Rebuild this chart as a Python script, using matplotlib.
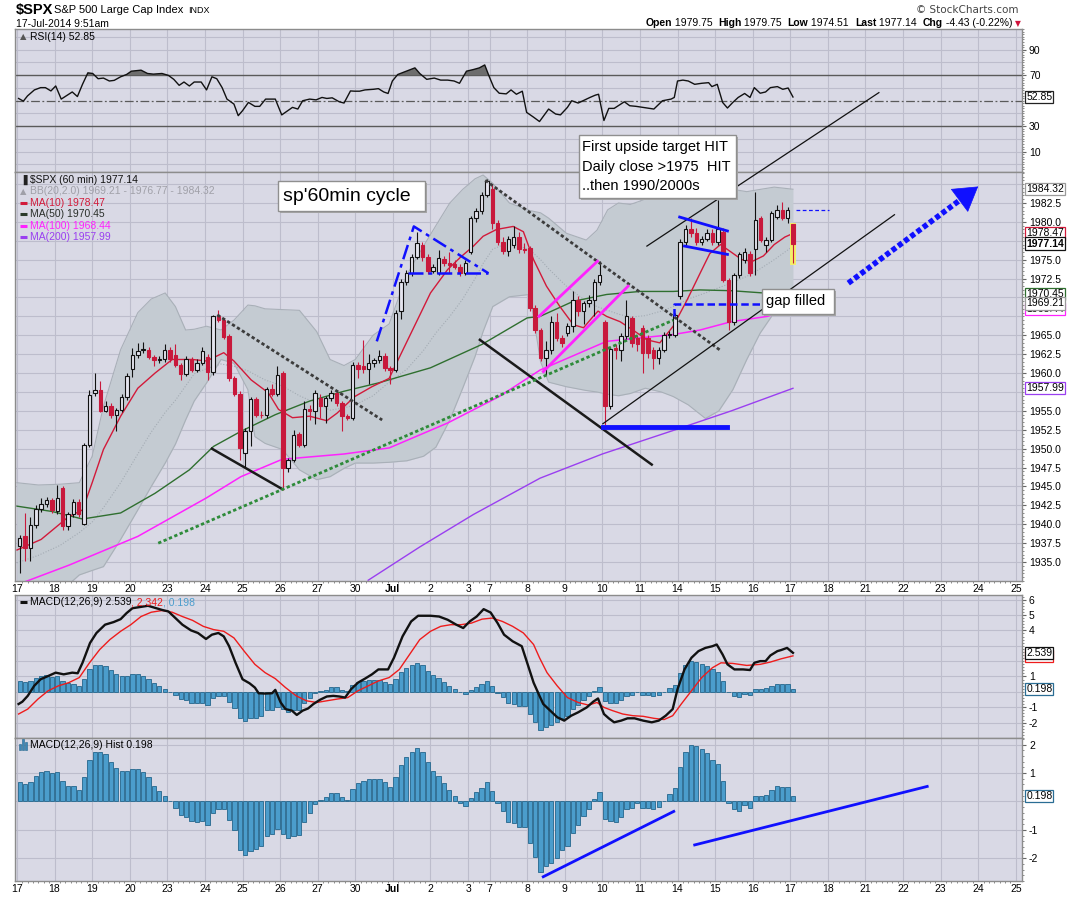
import numpy as np
import matplotlib
matplotlib.use("Agg")
import matplotlib.pyplot as plt
from matplotlib.patches import Rectangle

plt.rcParams['font.family'] = ['Liberation Sans', 'DejaVu Sans']

# ---------------- calendar (hourly bars, 7 per session, 4 on 3-Jul)
day_labels = ['17', '18', '19', '20', '23', '24', '25', '26', '27', '30', 'Jul', '2', '3',
              '7', '8', '9', '10', '11', '14', '15', '16', '17', '18', '21', '22', '23', '24', '25']
day_bars = [7] * 12 + [4] + [7] * 15

# ---------------- $SPX 60 min candles, 17-Jun 9:30 .. 17-Jul 9:30
opens = [1937.1, 1938.5, 1936.8, 1939.9, 1942.0, 1942.7, 1943.2,
         1941.7, 1944.8, 1939.8, 1941.3, 1943.0, 1940.1, 1950.5,
         1957.4, 1957.8, 1955.0, 1955.7, 1954.4, 1955.1, 1956.8,
         1960.6, 1962.4, 1963.0, 1963.1, 1962.1, 1961.7, 1961.8,
         1963.1, 1962.4, 1961.1, 1959.9, 1961.8, 1960.4, 1961.4,
         1962.1, 1960.1, 1967.5, 1967.0, 1964.9, 1959.3, 1957.3,
         1949.4, 1952.4, 1956.6, 1954.5, 1954.4, 1957.9, 1957.3,
         1960.0, 1947.4, 1948.5, 1951.9, 1950.5, 1955.2, 1955.0,
         1956.7, 1955.6, 1956.7, 1957.4, 1956.0, 1954.3, 1954.1,
         1961.1, 1960.9, 1960.5, 1961.4, 1961.7, 1962.3, 1960.7,
         1960.4, 1968.2, 1972.1, 1973.2, 1975.4, 1976.9, 1975.4,
         1973.5, 1973.3, 1975.1, 1974.6, 1974.4, 1974.1, 1973.3,
         1976.0, 1980.5, 1981.4, 1983.6,
         1984.3, 1979.8, 1977.4, 1976.1, 1977.0, 1978.0, 1976.4,
         1976.5, 1968.6, 1965.7, 1962.0, 1963.0, 1966.8, 1964.6,
         1965.3, 1966.2, 1969.7, 1968.2, 1969.3, 1969.7, 1972.1,
         1966.8, 1955.6, 1963.3, 1963.0, 1964.9, 1967.3, 1964.6,
         1966.0, 1964.6, 1963.1, 1962.0, 1963.1, 1965.1, 1965.1,
         1970.2, 1977.3, 1979.0, 1978.5, 1977.4, 1977.8, 1978.5,
         1977.4, 1978.7, 1972.3, 1966.8, 1973.0, 1975.0, 1975.7,
         1976.4, 1980.5, 1977.0, 1977.6, 1980.7, 1981.6, 1980.5,
         1979.75]
highs = [1938.6, 1941.5, 1941.0, 1942.6, 1943.5, 1943.6, 1943.5,
         1945.2, 1945.0, 1941.6, 1943.4, 1943.3, 1950.8, 1957.8,
         1960.0, 1958.9, 1956.3, 1956.0, 1955.4, 1957.2, 1960.0,
         1963.3, 1964.0, 1964.1, 1963.4, 1962.4, 1962.2, 1963.8,
         1963.5, 1963.8, 1961.4, 1962.2, 1962.1, 1961.8, 1963.5,
         1962.5, 1967.7, 1968.4, 1967.3, 1965.2, 1959.6, 1957.6,
         1952.8, 1956.9, 1956.9, 1955.0, 1958.2, 1958.6, 1960.9,
         1960.3, 1948.8, 1952.5, 1952.2, 1956.3, 1955.8, 1957.8,
         1957.2, 1957.0, 1957.8, 1957.7, 1956.3, 1954.6, 1961.5,
         1961.5, 1964.4, 1962.5, 1962.0, 1963.0, 1962.6, 1961.0,
         1968.3, 1972.4, 1973.6, 1975.7, 1978.7, 1977.4, 1975.8,
         1974.4, 1976.3, 1975.5, 1976.0, 1975.0, 1974.4, 1975.0,
         1980.8, 1981.8, 1984.0, 1985.7,
         1985.0, 1980.3, 1978.0, 1978.2, 1979.4, 1978.6, 1977.2,
         1976.8, 1969.0, 1966.0, 1964.2, 1967.5, 1968.0, 1965.0,
         1966.6, 1970.8, 1970.2, 1969.6, 1970.3, 1972.5, 1974.8,
         1967.0, 1963.5, 1963.8, 1965.3, 1969.7, 1967.6, 1965.0,
         1966.4, 1965.1, 1963.5, 1963.5, 1965.5, 1965.6, 1968.0,
         1977.8, 1979.6, 1980.5, 1979.2, 1978.2, 1979.0, 1979.0,
         1982.9, 1979.2, 1972.6, 1973.3, 1976.0, 1976.5, 1976.2,
         1984.0, 1980.8, 1978.0, 1981.5, 1982.2, 1982.6, 1982.0,
         1979.75]
lows = [1933.5, 1935.1, 1935.1, 1939.5, 1941.6, 1942.3, 1941.5,
        1941.3, 1939.3, 1939.2, 1941.0, 1941.0, 1939.9, 1950.2,
        1957.0, 1954.8, 1954.8, 1954.0, 1952.3, 1954.8, 1956.5,
        1959.5, 1962.0, 1962.6, 1961.8, 1960.9, 1961.3, 1961.5,
        1961.5, 1960.8, 1959.1, 1959.6, 1960.1, 1960.1, 1961.1,
        1959.1, 1959.8, 1966.7, 1964.5, 1959.0, 1957.0, 1948.5,
        1947.6, 1950.3, 1954.2, 1954.0, 1954.1, 1957.0, 1957.0,
        1944.6, 1946.9, 1948.2, 1950.2, 1950.2, 1953.8, 1953.3,
        1954.0, 1953.4, 1956.3, 1955.7, 1952.3, 1953.8, 1953.8,
        1959.3, 1960.0, 1958.5, 1960.8, 1961.3, 1960.3, 1958.5,
        1960.1, 1967.1, 1971.7, 1972.8, 1975.1, 1974.8, 1973.1,
        1973.2, 1973.0, 1974.2, 1973.2, 1973.8, 1972.9, 1973.0,
        1975.7, 1980.0, 1981.1, 1983.3,
        1979.0, 1977.0, 1975.8, 1975.5, 1976.6, 1975.9, 1975.9,
        1968.2, 1965.3, 1961.6, 1959.7, 1962.5, 1964.3, 1963.5,
        1964.9, 1965.5, 1967.5, 1966.5, 1968.8, 1967.5, 1971.6,
        1953.2, 1955.3, 1961.8, 1961.6, 1964.5, 1963.5, 1962.9,
        1960.0, 1962.0, 1960.5, 1961.2, 1962.8, 1964.6, 1964.8,
        1969.8, 1976.8, 1978.0, 1976.9, 1977.0, 1977.5, 1977.0,
        1977.0, 1972.0, 1965.7, 1966.3, 1972.6, 1974.6, 1972.9,
        1973.0, 1977.3, 1976.0, 1977.3, 1980.4, 1980.2, 1979.8,
        1974.51]
closes = [1938.2, 1936.9, 1939.9, 1942.0, 1942.7, 1943.2, 1941.9,
          1943.5, 1939.8, 1941.3, 1943.0, 1941.3, 1950.5, 1957.1,
          1957.7, 1955.0, 1955.7, 1954.4, 1955.1, 1956.8, 1959.6,
          1962.4, 1962.9, 1963.2, 1962.1, 1961.7, 1961.8, 1963.1,
          1961.8, 1961.1, 1959.9, 1961.8, 1960.4, 1961.4, 1962.9,
          1960.1, 1967.5, 1967.0, 1964.8, 1959.3, 1957.3, 1950.1,
          1952.4, 1956.6, 1954.5, 1954.4, 1957.9, 1957.3, 1959.8,
          1947.4, 1948.5, 1951.8, 1950.5, 1955.2, 1955.0, 1957.4,
          1955.6, 1956.7, 1957.4, 1956.0, 1954.3, 1954.1, 1961.1,
          1960.5, 1960.5, 1961.4, 1961.7, 1962.3, 1960.7, 1960.4,
          1968.0, 1972.1, 1973.2, 1975.4, 1977.2, 1975.4, 1973.5,
          1974.0, 1975.2, 1974.6, 1974.3, 1974.1, 1973.3, 1974.6,
          1980.5, 1981.4, 1983.6, 1985.4,
          1979.8, 1977.4, 1976.1, 1977.8, 1978.0, 1976.4, 1976.3,
          1968.6, 1965.7, 1962.0, 1963.0, 1966.8, 1964.6, 1964.0,
          1966.2, 1969.7, 1968.2, 1969.3, 1969.7, 1972.1, 1973.0,
          1955.6, 1963.2, 1963.0, 1964.9, 1967.5, 1964.0, 1963.8,
          1962.7, 1962.7, 1962.0, 1963.1, 1965.1, 1965.2, 1967.7,
          1977.3, 1979.1, 1978.5, 1977.4, 1977.8, 1978.5, 1977.4,
          1979.0, 1972.3, 1966.8, 1973.0, 1975.7, 1976.0, 1973.2,
          1980.3, 1977.6, 1977.6, 1981.2, 1981.6, 1980.5, 1981.6,
          1977.14]

# ---------------- overlays (x = bar position)
bb_x = [0, 4, 8, 11.6, 14, 16.1, 19.3, 22.5, 25, 27.6, 29.5, 31.4, 33, 35.3, 38, 40.4, 43, 44.3,
        46.2, 49.4, 52.6, 55.8, 58.3, 60.9, 63, 66.3, 69.3, 72.6, 75.7, 78, 80.6, 83, 85.3, 86.8,
        88.6, 91.7, 95.5, 97.5, 99, 102.3, 106, 108, 110, 112, 114.2, 117, 120, 122.2, 125, 128.2,
        130.7, 133.3, 135.9, 138.4, 141, 144.5]
bb_upper = [1945.5, 1945.2, 1945.3, 1945.5, 1949.0, 1955.6, 1963.1, 1968.0, 1969.8, 1970.6, 1968.8,
            1965.7, 1965.8, 1966.2, 1965.7, 1967.0, 1969.0, 1968.9, 1968.5, 1968.4, 1968.3, 1965.5,
            1961.8, 1961.0, 1961.8, 1965.0, 1966.5, 1973.0, 1976.8, 1979.5, 1982.5, 1984.3, 1985.7,
            1986.2, 1985.1, 1982.5, 1981.5, 1981.2, 1980.5, 1978.5, 1977.6, 1978.9, 1981.6, 1982.5,
            1982.3, 1983.0, 1985.1, 1987.5, 1989.0, 1988.0, 1985.5, 1984.3, 1984.0, 1984.3, 1984.6,
            1984.32]
bb_mid = [1934.9, 1935.9, 1937.2, 1938.9, 1940.3, 1942.2, 1945.5, 1949.3, 1952.2, 1954.8, 1956.4,
          1958.3, 1959.9, 1960.6, 1961.2, 1960.9, 1960.3, 1959.8, 1959.1, 1958.3, 1957.0, 1956.0,
          1955.1, 1955.4, 1955.8, 1957.0, 1958.8, 1960.5, 1963.0, 1965.3, 1967.5, 1969.8, 1972.5,
          1974.5, 1976.4, 1977.3, 1976.3, 1975.0, 1973.8, 1971.5, 1969.5, 1968.8, 1968.3, 1967.8,
          1967.4, 1967.6, 1968.2, 1968.8, 1969.8, 1970.6, 1971.3, 1972.0, 1972.8, 1973.8, 1975.0,
          1976.77]
bb_lower = [1929.0, 1929.8, 1931.0, 1933.3, 1933.9, 1934.4, 1938.0, 1941.9, 1945.0, 1948.1, 1950.6,
            1953.8, 1956.3, 1958.7, 1961.8, 1961.3, 1957.8, 1951.6, 1950.7, 1949.9, 1947.2, 1945.9,
            1946.3, 1947.4, 1948.1, 1948.1, 1948.2, 1948.4, 1949.0, 1950.2, 1953.8, 1958.0, 1962.2,
            1965.5, 1968.8, 1970.1, 1970.4, 1961.5, 1958.8, 1958.2, 1957.7, 1957.5, 1957.2, 1957.0,
            1957.3, 1958.0, 1957.5, 1956.9, 1955.8, 1954.0, 1955.0, 1957.8, 1961.8, 1965.3, 1968.0,
            1969.21]

ma10_x = [0, 4.5, 9.6, 12.2, 14, 16.1, 19.3, 22.5, 25.7, 28.9, 32.7, 35.3, 38.5, 40.4, 43.6, 46.8,
          48.7, 51.3, 54.5, 57.7, 59.6, 62.9, 66.1, 69.3, 72.5, 77, 80.2, 82.7, 85, 86.8, 89.3, 92.4,
          94.3, 96.2, 98.6, 101.1, 103.6, 105.5, 107.3, 108.2, 109.8, 112.3, 114.7, 117.3, 119.7,
          122.2, 124.8, 127.2, 129, 131, 133, 135, 137, 139, 141, 143, 144.5]
ma10_y = [1936.6, 1938.0, 1941.0, 1941.9, 1945.5, 1949.9, 1954.3, 1958.0, 1960.0, 1961.8, 1961.8,
          1961.6, 1962.7, 1961.6, 1959.1, 1957.4, 1955.2, 1954.1, 1954.3, 1953.7, 1954.7, 1956.9,
          1958.2, 1959.3, 1964.0, 1970.6, 1973.7, 1975.4, 1976.8, 1978.1, 1979.0, 1979.4, 1978.7,
          1975.0, 1971.5, 1968.8, 1966.4, 1966.0, 1967.5, 1968.2, 1967.5, 1966.8, 1965.7, 1964.4,
          1964.0, 1966.2, 1969.7, 1973.2, 1975.8, 1977.0, 1976.0, 1975.0, 1974.8, 1975.5, 1977.0,
          1978.0, 1978.47]
ma50_x = [0, 6.5, 12.2, 19.3, 25.7, 32.1, 36.6, 41.7, 48.1, 54.5, 60.9, 67.3, 77, 86.6, 95, 97.4,
          103.6, 109.8, 116, 122.2, 127.2, 133, 139, 144.5]
ma50_y = [1942.4, 1941.7, 1940.7, 1941.5, 1944.1, 1947.2, 1950.3, 1952.3, 1954.5, 1956.3, 1957.6,
          1958.7, 1960.7, 1963.8, 1967.3, 1967.5, 1969.5, 1970.4, 1970.8, 1970.8, 1971.0, 1970.9,
          1970.6, 1970.45]
ma100_x = [0, 9.7, 22.5, 35.3, 41.7, 49.4, 60.9, 69.3, 80.2, 89.8, 97.4, 109.8, 122.2, 127.2, 133,
           139.7, 144.5]
ma100_y = [1932.0, 1934.6, 1938.4, 1943.5, 1946.3, 1948.6, 1949.3, 1950.1, 1953.4, 1956.9, 1960.4,
           1964.2, 1965.1, 1965.7, 1966.8, 1967.5, 1968.44]
ma200_x = [65.4, 75, 85, 97.4, 109, 123, 133, 144.5]
ma200_y = [1932.6, 1937.0, 1941.3, 1946.1, 1949.3, 1952.6, 1955.0, 1957.99]

# ---------------- RSI(14)
rsi_x = [0.3, 1.19, 1.96, 3.24, 4.4, 5.29, 6.32, 7.21, 8.24, 9.65, 10.29, 11.25, 12.2, 13.2, 14.1,
         15.1, 16.1, 17.2, 18.1, 19.3, 20.4, 21.3, 23.1, 24.3, 25.4, 27.0, 28.2, 29.2, 30.2, 31.1,
         32.1, 33.0, 34.3, 35.3, 36.3, 37.2, 38.2, 39.1, 40.4, 41.2, 42.0, 43.1, 44.3, 45.2, 46.3,
         47.1, 48.1, 49.3, 50.4, 51.3, 52.3, 53.2, 54.5, 55.7, 56.8, 57.7, 58.7, 60.0, 60.9, 62.1,
         62.9, 63.8, 64.8, 66.4, 67.3, 68.3, 69.1, 69.9, 70.9, 72.5, 74.1, 75.0, 76.3, 77.7, 78.9,
         80.2, 81.4, 82.4, 83.7, 85.0, 86.1, 87.1, 87.9, 88.8, 89.8, 91.1, 92.0, 93.0, 94.1, 94.9,
         96.2, 97.3, 99.0, 100.3, 101.2, 102.5, 103.3, 104.5, 105.4, 106.7, 107.7, 108.3, 109.3,
         110.2, 111.2, 113.1, 114.1, 115.3, 116.6, 118.6, 120.2, 121.8, 122.4, 123.0, 124.0, 125.0,
         126.2, 127.5, 128.8, 129.4, 130.4, 131.4, 132.3, 133.3, 134.3, 135.5, 136.5, 137.3, 138.4,
         139.4, 140.3, 141.6, 142.6, 143.6, 144.5]
rsi_y = [51.7, 49.6, 53.7, 58.4, 60.2, 60.2, 57.6, 61.5, 51.2, 55.0, 56.8, 53.2, 62.8, 71.8, 71.3,
         67.2, 67.7, 65.4, 65.9, 68.7, 70.5, 73.1, 73.9, 71.3, 70.8, 71.3, 69.8, 66.7, 62.0, 64.6,
         61.5, 64.6, 64.6, 58.4, 68.7, 67.2, 60.2, 51.2, 47.3, 38.2, 42.1, 48.6, 45.5, 45.5, 51.2,
         51.2, 51.2, 38.8, 42.1, 44.7, 43.4, 49.9, 51.2, 50.6, 52.5, 51.7, 52.2, 49.1, 48.1, 57.6,
         57.4, 57.4, 58.4, 58.9, 59.4, 56.8, 55.6, 65.4, 70.5, 73.1, 75.7, 71.3, 66.7, 67.7, 66.1,
         66.1, 65.4, 63.6, 73.1, 74.4, 75.7, 78.0, 69.3, 60.2, 55.8, 55.3, 58.4, 55.0, 57.4, 40.8,
         37.0, 33.6, 43.4, 39.5, 38.8, 44.7, 49.9, 48.1, 49.9, 52.5, 54.3, 55.0, 34.4, 43.9, 43.9,
         49.1, 46.0, 45.5, 44.7, 43.4, 49.9, 51.2, 52.5, 65.4, 66.1, 65.4, 62.8, 63.6, 64.1, 61.0,
         62.8, 48.6, 44.2, 48.6, 52.5, 55.6, 52.5, 60.2, 55.8, 56.8, 60.2, 61.0, 58.9, 59.9, 52.85]

# ---------------- MACD(12,26,9)
macd_x = [0.3, 1.0, 2.0, 3.2, 4.4, 5.8, 7.2, 8.7, 10.3, 11.3, 12.2, 13.6, 14.8, 16.4, 18.0, 19.3,
          20.4, 21.5, 24.4, 27.0, 28.2, 29.5, 30.8, 32.4, 33.7, 35.2, 36.3, 37.5, 38.5, 39.5, 40.7,
          42.0, 43.3, 44.3, 45.0, 46.2, 47.5, 48.1, 49.1, 50.0, 51.2, 52.1, 53.2, 54.2, 55.2, 56.4,
          57.7, 58.9, 60.0, 61.1, 62.2, 63.5, 64.8, 66.1, 67.3, 69.1, 70.2, 71.8, 73.4, 74.7, 77.0,
          78.6, 80.2, 81.8, 83.1, 84.3, 85.6, 86.9, 88.2, 89.5, 90.7, 92.3, 94.0, 95.2, 96.2, 97.3,
          98.0, 99.3, 100.6, 101.9, 103.2, 104.5, 106.1, 107.3, 108.2, 109.3, 110.2, 111.2, 112.5,
          113.7, 115.0, 116.6, 118.2, 119.5, 120.8, 122.1, 123.0, 124.3, 125.6, 126.9, 128.2, 129.5,
          130.3, 131.4, 132.3, 133.6, 135.2, 136.5, 137.3, 138.4, 139.4, 140.3, 141.6, 142.3, 143.4,
          144.5]
macd_y = [-0.79, -0.64, -0.26, 0.39, 0.82, 1.03, 1.25, 1.14, 1.25, 1.21, 1.89, 3.18, 3.83, 4.37,
          4.54, 4.73, 5.12, 5.44, 5.60, 5.33, 5.23, 4.80, 4.37, 4.00, 3.83, 3.44, 3.72, 3.83, 3.61,
          2.97, 1.89, 0.82, 0.56, 0.28, -0.09, -0.11, -0.09, 0.13, -0.69, -1.12, -1.22, -1.50, -1.22,
          -1.08, -0.79, -0.52, -0.30, -0.26, -0.30, -0.37, 0.17, 0.60, 0.86, 1.14, 1.46, 1.46, 2.22,
          3.61, 4.58, 4.95, 4.95, 4.90, 4.69, 4.37, 4.15, 4.58, 4.90, 5.38, 5.16, 4.47, 3.72, 3.29,
          2.97, 1.68, 0.60, -0.26, -0.79, -1.22, -1.65, -1.87, -1.55, -1.33, -1.01, -0.64, -0.43,
          -1.44, -1.72, -1.98, -1.87, -1.72, -1.72, -1.87, -1.98, -1.87, -1.55, -1.12, 0.17, 1.46,
          2.22, 2.65, 2.86, 2.97, 3.08, 2.43, 1.79, 1.46, 1.46, 1.42, 1.89, 2.00, 2.00, 2.37, 2.65,
          2.72, 2.86, 2.539]
signal_x = [0.3, 2.0, 3.9, 5.8, 7.7, 9.65, 11.6, 13.5, 15.4, 17.3, 19.3, 21.2, 23.1, 25.0, 27.0,
            28.9, 30.8, 32.7, 34.7, 36.6, 38.5, 40.4, 42.3, 44.3, 46.2, 48.1, 50.0, 52.0, 53.9,
            55.8, 57.7, 59.6, 61.6, 63.5, 65.4, 67.3, 69.3, 71.2, 73.1, 75.0, 77.0, 78.9, 80.8,
            82.7, 84.6, 86.6, 88.5, 90.4, 92.3, 94.3, 96.2, 97.3, 98.7, 100.6, 102.5, 104.5, 106.4,
            108.0, 109.3, 110.9, 112.8, 114.7, 116.6, 118.6, 120.5, 122.1, 123.7, 125.6, 127.5,
            129.5, 131.1, 133.3, 135.9, 138.4, 140.3, 142.3, 144.5]
signal_y = [-1.44, -1.12, -0.47, 0.07, 0.39, 0.60, 0.93, 1.89, 2.75, 3.40, 3.94, 4.37, 4.90, 5.18,
            5.29, 5.18, 4.90, 4.65, 4.26, 4.05, 3.94, 3.51, 2.65, 1.79, 1.25, 0.86, 0.28, -0.26,
            -0.58, -0.69, -0.58, -0.47, -0.37, 0.07, 0.39, 0.71, 0.93, 1.46, 2.43, 3.40, 3.94, 4.26,
            4.37, 4.37, 4.47, 4.73, 4.80, 4.58, 4.26, 3.83, 3.08, 2.22, 1.25, 0.39, -0.37, -0.69,
            -0.86, -0.69, -1.01, -1.22, -1.44, -1.55, -1.59, -1.72, -1.80, -1.55, -0.79, 0.07, 0.93,
            1.57, 1.89, 1.85, 1.72, 1.79, 1.94, 2.15, 2.342]
hist = [0.68, 0.62, 0.70, 0.91, 1.03, 1.09, 0.99, 1.05, 0.71, 0.56,
        0.54, 0.39, 0.85, 1.47, 1.75, 1.75, 1.67, 1.40, 1.17, 1.06,
        1.06, 1.16, 1.16, 1.05, 0.85, 0.56, 0.36, 0.21, 0.01, -0.23,
        -0.47, -0.55, -0.70, -0.71, -0.70, -0.83, -0.41, -0.25, -0.27, -0.64,
        -1.02, -1.72, -1.88, -1.73, -1.67, -1.58, -1.20, -1.16, -0.97, -1.13,
        -1.29, -1.20, -1.17, -0.71, -0.41, -0.08, 0.04, 0.15, 0.29, 0.29,
        0.15, 0.06, 0.43, 0.65, 0.71, 0.78, 0.78, 0.78, 0.67, 0.50,
        0.85, 1.27, 1.56, 1.73, 1.87, 1.73, 1.38, 1.09, 0.88, 0.64,
        0.40, 0.20, -0.04, -0.15, 0.12, 0.32, 0.49, 0.68, 0.37, -0.06,
        -0.35, -0.73, -0.76, -0.90, -0.90, -1.46, -1.96, -2.47,
        -2.26, -2.16, -1.99, -1.70, -1.58, -1.11, -0.83, -0.50, -0.27, 0.08,
        0.33, -0.62, -0.70, -0.73, -0.55, -0.25, -0.23, -0.04, -0.23, -0.23,
        -0.27, -0.20, 0.02, 0.26, 0.47, 1.20, 1.73, 1.98, 1.95, 1.84,
        1.70, 1.46, 1.31, 0.71, -0.04, -0.27, -0.33, -0.14, -0.23, 0.18,
        0.20, 0.23, 0.41, 0.53, 0.51, 0.50, 0.198]

# ---------------- style
BG = '#d9d9e5'
GRID = '#bdbdcc'
EDGE = '#8c8c8c'
RED = '#c8193c'
BLUE_H = '#4b9dcc'
W_PX, H_PX = 1075, 897

day_start = np.concatenate([[0], np.cumsum(day_bars)[:-1]])
xpos = np.arange(len(closes)) + 0.5


def fig_rect(top, bottom):
    return [15 / W_PX, 1 - bottom / H_PX, 1007 / W_PX, (bottom - top) / H_PX]


def px(x, y):
    return x / W_PX, 1 - y / H_PX


def panel(a, ylim, grid_vals, tick_vals, fmt, minor_step, dates=False):
    a.set_facecolor(BG)
    a.set_xlim(-0.37, 187.15)
    a.set_ylim(*ylim)
    for s in a.spines.values():
        s.set_color(EDGE)
        s.set_linewidth(1)
    for d in day_start:
        a.axvline(d, color=GRID, lw=0.8, zorder=0)
    for v in grid_vals:
        a.axhline(v, color=GRID, lw=0.8, zorder=0)
    a.yaxis.tick_right()
    a.set_yticks(tick_vals)
    a.set_yticklabels([fmt.format(v) for v in tick_vals], fontsize=7.5)
    a.set_yticks(np.arange(ylim[0] - ylim[0] % minor_step, ylim[1], minor_step), minor=True)
    a.tick_params(axis='y', which='major', length=3, width=0.8, pad=2, color='#666666')
    a.tick_params(axis='y', which='minor', length=1.5, width=0.6, color='#777777')
    a.set_xticks(day_start)
    a.set_xticks(np.arange(0, 187), minor=True)
    a.tick_params(axis='x', which='major', length=0, pad=2)
    a.tick_params(axis='x', which='minor', length=1.5, width=0.6, color='#777777')
    if dates:
        a.set_xticklabels(day_labels, fontsize=7.5)
        for t in a.get_xticklabels():
            if t.get_text() == 'Jul':
                t.set_fontweight('bold')
    else:
        a.set_xticklabels([])


def tag(a, v, text, ec, bold=False):
    a.annotate(text, xy=(1, v), xycoords=('axes fraction', 'data'), xytext=(3, 0),
               textcoords='offset points', ha='left', va='center', fontsize=7.5,
               fontweight='bold' if bold else 'normal', annotation_clip=False, zorder=20,
               bbox=dict(boxstyle='square,pad=0.1', fc='white', ec=ec, lw=0.9))


def note(lines, box, text_xy, fs):
    x0, y0 = px(box[0], box[3])
    x1, y1 = px(box[2], box[1])
    fig.add_artist(Rectangle((x0 + 2 / W_PX, y0 - 2 / H_PX), x1 - x0, y1 - y0,
                             transform=fig.transFigure, fc='#a6a6a6', ec='none', zorder=5))
    fig.add_artist(Rectangle((x0, y0), x1 - x0, y1 - y0, transform=fig.transFigure,
                             fc='white', ec='#8f8f8f', lw=1, zorder=6))
    for i, s in enumerate(lines):
        fx, fy = px(text_xy[0], text_xy[1] + i * text_xy[2])
        fig.text(fx, fy, s, fontsize=fs, va='center', ha='left', zorder=7)


fig = plt.figure(figsize=(W_PX / 100, H_PX / 100), dpi=100)
ax_rsi = fig.add_axes(fig_rect(29, 172))
ax = fig.add_axes(fig_rect(172, 581))
ax_macd = fig.add_axes(fig_rect(595, 738))
ax_hist = fig.add_axes(fig_rect(738, 881))

# ---------------- RSI panel
panel(ax_rsi, (-4.65, 106.2), [0, 10, 20, 40, 60, 80, 90, 100], [10, 30, 70, 90], '{:.0f}', 2)
ax_rsi.axhline(70, color='#5a5a5a', lw=1, zorder=1)
ax_rsi.axhline(30, color='#5a5a5a', lw=1, zorder=1)
ax_rsi.axhline(50, color='#5a5a5a', lw=0.9, ls=(0, (7, 2, 1.5, 2)), zorder=1)
rx, ry = np.array(rsi_x), np.array(rsi_y)
ax_rsi.fill_between(rx, ry, 70, where=ry > 70, interpolate=True, color='#6d6d6d', lw=0, zorder=2)
ax_rsi.plot(rx, ry, color='#111111', lw=1, zorder=3)
ax_rsi.text(0.0045, 0.945, '\u25b2', transform=ax_rsi.transAxes, fontsize=6, color='#555555',
            va='center', family=['DejaVu Sans'])
ax_rsi.text(0.0145, 0.945, 'RSI(14) 52.85', transform=ax_rsi.transAxes, fontsize=7.5, va='center')
tag(ax_rsi, 52.85, '52.85', '#222222')

# ---------------- price panel
price_ticks = [1935.0, 1937.5, 1940.0, 1942.5, 1945.0, 1947.5, 1950.0, 1952.5, 1955.0,
               1960.0, 1962.5, 1965.0, 1972.5, 1975.0, 1980.0, 1982.5]
panel(ax, (1932.5, 1986.6), np.arange(1935, 1986, 2.5), price_ticks, '{:.1f}', 0.5, dates=True)
ax.fill_between(bb_x, bb_lower, bb_upper, color='#c4cbd2', lw=0, zorder=1)
ax.plot(bb_x, bb_upper, color='#a9b0b8', lw=0.8, zorder=1.5)
ax.plot(bb_x, bb_lower, color='#a9b0b8', lw=0.8, zorder=1.5)
ax.plot(bb_x, bb_mid, color='#a4acb4', lw=0.8, ls=(0, (1, 1.5)), zorder=1.5)
ax.plot(ma200_x, ma200_y, color='#9a3ff0', lw=1, zorder=2)
ax.plot(ma100_x, ma100_y, color='#ff22ff', lw=1.1, zorder=2)
ax.plot(ma50_x, ma50_y, color='#2f6f2f', lw=1, zorder=2)
ax.plot(ma10_x, ma10_y, color='#d21a3a', lw=1, zorder=2)

# highlight of the live bar
ax.add_patch(Rectangle((xpos[-1] - 0.5, lows[-1] - 0.15), 1.0, highs[-1] - lows[-1] + 0.3,
                       fc='#f3ee6a', ec='none', zorder=2.5))
for i in range(len(closes)):
    o, h, l, c = opens[i], highs[i], lows[i], closes[i]
    up = c >= o
    col = '#111111' if up else RED
    ax.vlines(xpos[i], l, h, color=col, lw=0.8, zorder=3)
    ax.add_patch(Rectangle((xpos[i] - 0.32, min(o, c)), 0.64, max(abs(c - o), 0.08),
                           fc='#e4e4ee' if up else RED, ec=col, lw=0.8, zorder=3.5))

# chartist's drawings
dot = (0, (1.2, 0.9))
ax.plot([37.3, 68.0], [1967.7, 1953.8], color='#3c3c3c', lw=2, ls=dot, zorder=4)
ax.plot([87.2, 131.2], [1985.5, 1962.9], color='#3c3c3c', lw=2, ls=dot, zorder=4)
ax.plot([36.3, 49.3], [1950.0, 1944.7], color='#1a1a1a', lw=1.8, zorder=4)
ax.plot([86.2, 118.2], [1964.4, 1947.9], color='#1a1a1a', lw=1.8, zorder=4)
ax.plot([26.3, 122.2], [1937.5, 1967.0], color='#2e8b3a', lw=2, ls=dot, zorder=4)
ax.plot([67.0, 73.9, 87.8], [1964.2, 1979.4, 1973.2], color='#1010ff', lw=1.8,
        ls=(0, (6, 2, 1.5, 2)), zorder=4)
ax.plot([72.8, 87.8], [1973.2, 1973.2], color='#1010ff', lw=1.8, ls=(0, (6, 2, 1.5, 2)), zorder=4)
ax.plot([97.2, 108.1], [1967.5, 1974.8], color='#ff22ff', lw=2, zorder=4)
ax.plot([98.0, 113.8], [1960.2, 1971.5], color='#ff22ff', lw=2, zorder=4)
ax.plot([122.3, 122.3, 138.4], [1967.5, 1969.13, 1969.13], color='#1010ff', lw=1.8,
        ls=(0, (3, 1.5)), zorder=4)
ax.plot([109.1, 132.3], [1952.9, 1952.9], color='#1010ff', lw=3.5, zorder=4)
ax.plot([109.1, 163.4], [1953.3, 1980.95], color='#111111', lw=0.9, zorder=4)
ax.plot([117.3, 160.5], [1976.8, 1997.1], color='#111111', lw=0.9, zorder=4, clip_on=False)
ax.plot([123.4, 132.3], [1980.64, 1978.8], color='#1010ff', lw=2, zorder=4)
ax.plot([124.3, 132.3], [1976.8, 1975.7], color='#1010ff', lw=2, zorder=4)
ax.plot([145.0, 151.2], [1981.6, 1981.6], color='#1010ff', lw=0.9, ls=(0, (3, 2)), zorder=4)
ax.plot([154.8, 177.6], [1971.9, 1983.95], color='#1010ff', lw=4, ls=(0, (0.9, 0.5)),
        solid_capstyle='butt', zorder=4)
ax.annotate('', xy=(179.4, 1984.9), xytext=(177.0, 1983.63),
            arrowprops=dict(arrowstyle='-|>,head_length=0.9,head_width=0.55', color='#1010ff',
                            lw=0.5, mutation_scale=18), zorder=4)

# legend block
leg = [('$SPX (60 min) 1977.14', '#111111', None),
       ('BB(20,2.0) 1969.21 - 1976.77 - 1984.32', '#a0a0a8', None),
       ('MA(10) 1978.47', '#d21a3a', '#d21a3a'),
       ('MA(50) 1970.45', '#2a2f2a', '#2a3a2a'),
       ('MA(100) 1968.44', '#ff22ff', '#ff22ff'),
       ('MA(200) 1957.99', '#9a3ff0', '#9a3ff0')]
for k, (s, c, dash) in enumerate(leg):
    yy = 1 - (180 + k * 11.4 - 172) / 409
    ax.text(0.0145, yy, s, transform=ax.transAxes, fontsize=7.5, color=c, va='center', zorder=20)
    if dash:
        ax.plot([0.0045, 0.0115], [yy, yy], transform=ax.transAxes, color=dash, lw=2.2,
                solid_capstyle='butt', zorder=20)
ax.text(0.0045, 1 - 8 / 409, '\u2590', transform=ax.transAxes, fontsize=7, va='center',
        family=['DejaVu Sans'], color='#222222')
ax.text(0.0045, 1 - 20 / 409, '\u25b2', transform=ax.transAxes, fontsize=6, va='center',
        family=['DejaVu Sans'], color='#a0a0a8')

for v, s, c, b in [(1984.32, '1984.32', '#9a9a9a', False), (1978.47, '1978.47', '#d21a3a', False),
                   (1977.14, '1977.14', '#111111', True), (1970.45, '1970.45', '#2f6f2f', False),
                   (1968.44, '1968.44', '#ff22ff', False), (1969.21, '1969.21', '#9a9a9a', False),
                   (1957.99, '1957.99', '#9a3ff0', False)]:
    tag(ax, v, s, c, b)

# ---------------- MACD panel
panel(ax_macd, (-2.92, 6.30), np.arange(-2, 7, 1), [-2, -1, 1, 4, 5, 6], '{:.0f}', 0.2)
ax_macd.bar(xpos, hist, width=0.8, color=BLUE_H, edgecolor='#24668c', lw=0.6, zorder=2)
ax_macd.plot(signal_x, signal_y, color='#ee1c1c', lw=1, zorder=3)
ax_macd.plot(macd_x, macd_y, color='#111111', lw=1.7, zorder=4)
ax_macd.plot([0.0045, 0.0115], [0.951, 0.951], transform=ax_macd.transAxes, color='#111111',
             lw=2.2, solid_capstyle='butt', zorder=20)
t = ax_macd.text(0.0145, 0.951, 'MACD(12,26,9) 2.539', transform=ax_macd.transAxes,
                 fontsize=7.5, va='center', zorder=20)
for s, c in [(', 2.342', '#ee1c1c'), (', 0.198', BLUE_H)]:
    t = ax_macd.annotate(s, xy=(1, 0.5), xycoords=t, ha='left', va='center', color=c,
                         fontsize=7.5, zorder=20)
tag(ax_macd, 2.342, '2.342', '#ee1c1c')
tag(ax_macd, 2.539, '2.539', '#111111')
tag(ax_macd, 0.198, '0.198', '#2a6d94')

# ---------------- histogram panel
panel(ax_hist, (-2.78, 2.235), np.arange(-2, 3, 1), [-2, -1, 1, 2], '{:.0f}', 0.2,
      dates=True)
ax_hist.bar(xpos, hist, width=0.8, color=BLUE_H, edgecolor='#24668c', lw=0.6, zorder=2)
ax_hist.plot([98.0, 122.3], [-2.65, -0.35], color='#1010ff', lw=2, zorder=4)
ax_hist.plot([126.2, 169.5], [-1.53, 0.53], color='#1010ff', lw=2, zorder=4)
for k, hgt in enumerate([0.045, 0.075, 0.06]):
    ax_hist.add_patch(Rectangle((0.0042 + k * 0.0027, 0.915), 0.0022, hgt,
                                transform=ax_hist.transAxes, fc='#3d88b8', ec='#24668c',
                                lw=0.4, zorder=20))
ax_hist.text(0.0145, 0.951, 'MACD(12,26,9) Hist 0.198', transform=ax_hist.transAxes,
             fontsize=7.5, va='center')
tag(ax_hist, 0.198, '0.198', '#2a6d94')

# ---------------- notes
note(["sp'60min cycle"], (278, 181, 425, 211), (283, 196, 0), 14)
note(['First upside target HIT', 'Daily close >1975  HIT', '..then 1990/2000s'],
     (579, 135, 736, 198), (582, 147, 19.5), 10.5)
note(['gap filled'], (762, 289, 834, 314), (766, 301, 0), 10.5)

# ---------------- header
fig.text(*px(16, 10), '$SPX', fontsize=10.5, fontweight='bold', va='center')
fig.text(*px(54, 10), 'S&P 500 Large Cap Index', fontsize=8, va='center')
fig.text(*px(188, 10.5), 'INDX', fontsize=6.5, va='center')
fig.text(*px(16, 24), '17-Jul-2014 9:51am', fontsize=7.5, va='center')
fig.text(*px(1018, 10), '\u00a9 StockCharts.com', fontsize=7.5, va='center', ha='right',
         color='#444444', family=['DejaVu Sans'])
head = [('Open', 'bold'), (' 1979.75  ', 'normal'), ('High', 'bold'), (' 1979.75  ', 'normal'),
        ('Low', 'bold'), (' 1974.51  ', 'normal'), ('Last', 'bold'), (' 1977.14  ', 'normal'),
        ('Chg', 'bold'), (' -4.43 (-0.22%) ', 'normal')]
prev = fig.text(*px(1021, 23.5), '\u25bc', fontsize=5.5, color='#d0143c', va='center',
                ha='right', family=['DejaVu Sans'])
for s, w in reversed(head):
    prev = ax.annotate(s, xy=(0, 0.5), xycoords=prev, ha='right', va='center', fontsize=7.5,
                       fontweight=w, annotation_clip=False)

fig.savefig('out.png', dpi=100, facecolor='white')
